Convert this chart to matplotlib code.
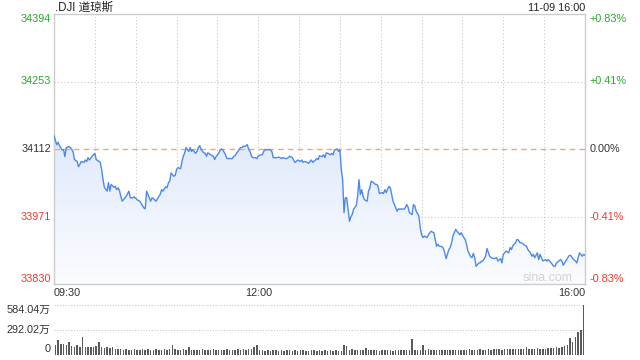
import numpy as np
import matplotlib
matplotlib.use("Agg")
import matplotlib.pyplot as plt
from matplotlib.colors import LinearSegmentedColormap

plt.rcParams['font.family'] = ['Liberation Sans', 'Noto Sans CJK SC', 'DejaVu Sans']

# ---------------- data ----------------
title = ".DJI 道琼斯"
stamp = "11-09 16:00"
prev_close = 34112
y_ticks = [34394, 34253, 34112, 33971, 33830]
pct_labels = ["+0.83%", "+0.41%", "0.00%", "-0.41%", "-0.83%"]
x_tick_labels = ["09:30", "12:00", "16:00"]
vol_ticks = [584.04, 292.02, 0]
vol_labels = ["584.04万", "292.02万", "0"]

# minutes after 09:30
minutes = [0, 2, 3, 4, 6, 7, 8, 9, 11, 12, 14, 15, 17, 18, 19, 20, 22, 23, 24, 25, 26, 28, 29, 30, 31, 33, 34, 35, 36, 37,
           39, 40, 41, 42, 44, 45, 46, 47, 48, 50, 51, 53, 55, 56, 58, 59, 61, 63, 66, 67, 68, 69, 71, 72, 73, 75, 77, 78, 79, 80,
           82, 83, 84, 85, 86, 88, 89, 90, 91, 93, 94, 95, 96, 97, 99, 100, 101, 102, 104, 105, 106, 107, 108, 110, 111, 112, 113, 115, 116, 117,
           118, 119, 121, 122, 123, 124, 126, 127, 128, 129, 131, 132, 133, 134, 135, 137, 138, 139, 140, 142, 143, 144, 145, 146, 148, 149, 150, 151, 153, 154,
           155, 156, 157, 159, 160, 161, 162, 164, 165, 166, 167, 168, 170, 171, 172, 173, 175, 176, 177, 178, 179, 181, 182, 183, 184, 186, 187, 188, 189, 190,
           192, 193, 194, 195, 197, 198, 199, 200, 201, 203, 204, 205, 206, 208, 209, 210, 211, 212, 213, 214, 215, 216, 217, 218, 219, 220, 222, 223, 224, 225,
           226, 227, 228, 230, 231, 232, 233, 235, 236, 237, 238, 239, 241, 242, 243, 244, 246, 247, 248, 249, 250, 252, 253, 254, 255, 257, 258, 259, 260, 261,
           263, 264, 265, 266, 268, 269, 270, 271, 272, 274, 275, 276, 277, 279, 280, 281, 282, 283, 285, 286, 287, 288, 290, 291, 292, 293, 295, 296, 297, 298,
           299, 301, 302, 303, 304, 306, 307, 308, 309, 310, 312, 313, 314, 315, 317, 318, 320, 321, 323, 325, 326, 328, 329, 330, 331, 332, 334, 335, 336, 337,
           339, 340, 341, 342, 344, 345, 346, 347, 348, 350, 351, 352, 353, 355, 356, 357, 358, 359, 361, 362, 363, 364, 366, 367, 368, 369, 370, 372, 373, 374,
           375, 377, 378, 379, 380, 381, 383, 384, 385, 386, 388, 389, 390]

prices = [34140, 34121, 34126, 34119, 34110, 34111, 34096, 34115, 34117, 34115, 34107, 34090, 34086, 34075, 34080, 34086, 34084, 34089, 34086, 34094,
          34089, 34097, 34100, 34103, 34090, 34086, 34084, 34069, 34048, 34032, 34024, 34042, 34024, 34038, 34032, 34034, 34027, 34031, 34026, 34003,
          34006, 34013, 34024, 34010, 34010, 34012, 34006, 34003, 33989, 33987, 34024, 34017, 34003, 34010, 34008, 34003, 34013, 34017, 34027, 34024,
          34033, 34031, 34041, 34045, 34062, 34055, 34057, 34069, 34073, 34071, 34086, 34097, 34104, 34115, 34107, 34115, 34107, 34110, 34103, 34107,
          34115, 34119, 34111, 34104, 34103, 34097, 34104, 34100, 34098, 34097, 34090, 34096, 34103, 34110, 34112, 34110, 34100, 34092, 34092, 34092,
          34092, 34097, 34098, 34103, 34107, 34115, 34115, 34118, 34117, 34121, 34111, 34107, 34097, 34094, 34094, 34092, 34097, 34099, 34100, 34107,
          34111, 34110, 34111, 34110, 34107, 34094, 34094, 34094, 34095, 34094, 34092, 34094, 34092, 34092, 34094, 34097, 34094, 34089, 34084, 34086,
          34089, 34086, 34089, 34084, 34086, 34084, 34082, 34086, 34089, 34084, 34089, 34092, 34090, 34098, 34096, 34100, 34094, 34104, 34103, 34100,
          34103, 34100, 34110, 34112, 34107, 34110, 34069, 34048, 33979, 34010, 34010, 33986, 33961, 33970, 33975, 33986, 33994, 34013, 34048, 34017,
          34027, 34013, 34006, 34003, 34024, 34031, 34045, 34041, 34038, 34038, 34034, 34019, 34021, 34019, 34027, 34021, 34034, 34031, 34017, 34003,
          33996, 33982, 33987, 33986, 33987, 33986, 33989, 33996, 33991, 33979, 33975, 33996, 33993, 33982, 33972, 33947, 33933, 33927, 33930, 33927,
          33933, 33937, 33940, 33937, 33923, 33909, 33913, 33909, 33908, 33904, 33895, 33883, 33902, 33906, 33916, 33930, 33944, 33940, 33937, 33933,
          33937, 33927, 33923, 33913, 33899, 33887, 33885, 33894, 33885, 33867, 33874, 33874, 33878, 33878, 33888, 33904, 33888, 33885, 33883, 33885,
          33878, 33883, 33874, 33892, 33895, 33899, 33895, 33906, 33902, 33910, 33916, 33923, 33922, 33917, 33915, 33913, 33910, 33909, 33902, 33895,
          33888, 33892, 33885, 33895, 33881, 33892, 33885, 33878, 33881, 33878, 33881, 33878, 33871, 33867, 33867, 33874, 33876, 33881, 33878, 33869,
          33874, 33883, 33888, 33890, 33888, 33883, 33878, 33874, 33885, 33895, 33888, 33892, 33890]

# volume (万 shares), one bar per 2 minutes
volume = [112, 164, 118, 118, 112, 144, 100, 93, 112, 82,
          210,
          82, 93, 93, 82, 100, 144,
          93, 74, 82, 74, 82, 65,
          60, 65, 55, 62, 58, 54, 60, 52, 58, 62, 55, 60, 50, 56, 62, 58, 52, 60,
          55, 65, 112, 60,
          55, 50, 60, 58, 90, 52,
          55, 50, 58, 60, 52, 48, 55, 62, 50, 56, 58, 52, 60, 55, 50, 58, 62, 55, 60, 58,
          62, 70, 85, 108, 58,
          48, 42, 50, 45, 52, 48, 44, 50, 46, 52, 48, 45, 50, 44, 48, 52, 46, 42, 50, 48, 45, 52, 44, 48, 46, 50, 42, 48, 45, 40,
          108, 95,
          55, 60, 52, 58, 50, 55,
          80,
          50, 55, 48, 52, 45, 50, 55, 48, 52, 46, 50, 55, 48, 52, 50, 50, 179, 48,
          52, 50, 108,
          55, 60, 52, 58, 50, 55, 48, 52, 56, 50, 48, 52, 58, 55, 50, 52, 60, 55, 50, 58, 62, 55, 52, 60, 58,
          60, 65, 62, 58, 65, 70, 62, 68, 65, 60, 66, 70,
          82,
          65, 62, 68, 72, 66, 70, 68, 75, 72,
          78, 85, 80, 92,
          95, 108, 187, 150, 206, 264, 284, 584.04]

# ---------------- figure ----------------
W, H = 640, 360
fig = plt.figure(figsize=(6.4, 3.6), dpi=100)
fig.patch.set_facecolor('white')

L, R = 54, 585
top, bot = 14, 284
ax = fig.add_axes([L / W, 1 - bot / H, (R - L) / W, (bot - top) / H])
ax.set_xlim(0, 390)
ax.set_ylim(y_ticks[-1], y_ticks[0])
ax.set_xticks([])
ax.set_yticks([])
for s in ax.spines.values():
    s.set_color('#cccccc')
    s.set_linewidth(1.0)

grid_kw = dict(color='#c8c8c8', lw=0.8, ls=(0, (1, 2)), zorder=0.5)
for t in range(30, 390, 30):
    ax.axvline(t, **grid_kw)
for yv in (y_ticks[1], y_ticks[3]):
    ax.axhline(yv, **grid_kw)

# gradient fill under line
poly = ax.fill_between(minutes, prices, y_ticks[-1], color='none', lw=0)
path = poly.get_paths()[0]
cmap = LinearSegmentedColormap.from_list('g', ['#fbfcff', '#dfe9fb'])
grad = np.linspace(0, 1, 256).reshape(-1, 1)
im = ax.imshow(grad, extent=[0, 390, y_ticks[-1], 34150], aspect='auto',
               cmap=cmap, origin='lower', zorder=1)
im.set_clip_path(path, transform=ax.transData)
ax.set_xlim(0, 390)
ax.set_ylim(y_ticks[-1], y_ticks[0])

ax.axhline(prev_close, color='#f2a878', lw=1.0, ls=(0, (4, 3)), zorder=2)
ax.plot(minutes, prices, color='#4b89ee', lw=1.0, zorder=3)

green, red, neutral = '#27a827', '#ef3a2c', '#333333'
label_colors = [green, green, neutral, red, red]
vas = ['top', 'center', 'center', 'center', 'bottom']
ytr = ax.get_yaxis_transform()
fs = 7.8
for yv, pl, c, va in zip(y_ticks, pct_labels, label_colors, vas):
    ax.text(-0.006, yv, str(yv), transform=ytr, ha='right', va=va, color=c, fontsize=fs)
    ax.text(1.008, yv, pl, transform=ytr, ha='left', va=va, color=c, fontsize=fs)

ax.text((573 - L) / (R - L), 0.022, 'sina.com', transform=ax.transAxes, ha='right',
        va='center', color='#d2d2d2', fontsize=9)

# x labels
xy = 1 - 293 / H
fig.text(L / W, xy, x_tick_labels[0], ha='left', va='center', fontsize=fs, color=neutral)
fig.text((L + (R - L) * 150 / 390) / W, xy, x_tick_labels[1], ha='center', va='center', fontsize=fs, color=neutral)
fig.text(R / W, xy, x_tick_labels[2], ha='right', va='center', fontsize=fs, color=neutral)

# header
fig.text(55 / W, 1 - 8 / H, title, ha='left', va='center', fontsize=8.3, color='#222222')
fig.text(R / W, 1 - 8 / H, stamp, ha='right', va='center', fontsize=7.8, color='#222222')

# volume panel
vt, vb = 304.5, 354.5
axv = fig.add_axes([L / W, 1 - vb / H, (R - L) / W, (vb - vt) / H])
axv.set_xlim(0, 390)
axv.set_ylim(0, vol_ticks[0])
axv.set_xticks([])
axv.set_yticks([])
for s in axv.spines.values():
    s.set_visible(False)
axv.patch.set_alpha(0)
for yv in vol_ticks[:2]:
    axv.axhline(yv, color='#c8c8c8', lw=0.8, ls=(0, (1, 1.5)), clip_on=False, zorder=0.5)
bx = np.arange(len(volume)) * 2 + 1
axv.bar(bx, volume, width=1.1, color='#5a5a5a', zorder=2)
vtr = axv.get_yaxis_transform()
for yv, lab, va in zip(vol_ticks, vol_labels, ['top', 'center', 'bottom']):
    axv.text(-0.006, yv, lab, transform=vtr, ha='right', va=va, color=neutral, fontsize=fs)

fig.savefig('out.png', dpi=100)
